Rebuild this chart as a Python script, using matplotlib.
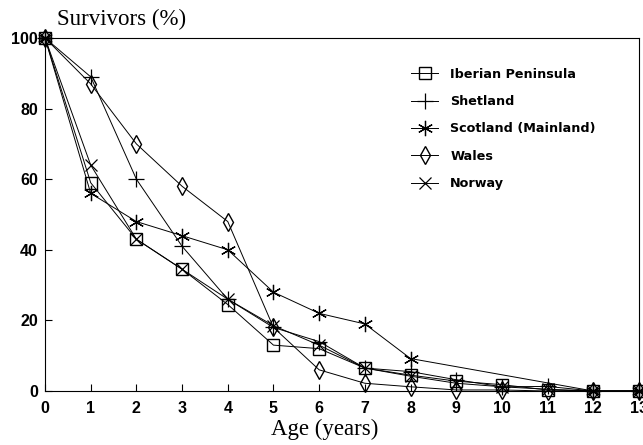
import numpy as np
import matplotlib
matplotlib.use("Agg")
import matplotlib.pyplot as plt

ages = [0, 1, 2, 3, 4, 5, 6, 7, 8, 9, 10, 11, 12, 13]
iberian = [100, 59, 43, 34.5, 24.5, 13, 12, 6.5, 4.5, 2.8, 1.8, 0.3, 0, 0]
shetland = [100, 89, 60, 41, 26, 18, 14, 6.5, 5.5, 3.2, 1.2, 1.3, 0, 0]
scotland = [100, 56, 48, 44, 40, 28, 22, 19, 9.2, np.nan, np.nan, np.nan, 0, 0]
wales = [100, 87, 70, 58, 48, 18, 6, 2.2, 1.2, 0.3, 0.3, 0, 0, 0]
norway = [100, 64, 43, 34.5, 26, 18.5, 13, 6.5, 4.2, 2.2, 1.2, 0.5, 0, 0]

series = [
    ("Iberian Peninsula", iberian, dict(marker="s", markersize=8, mfc="none")),
    ("Shetland", shetland, dict(marker="+", markersize=11, mew=0.9)),
    ("Scotland (Mainland)", scotland, dict(marker=(6, 2, 0), markersize=11, mew=0.9)),
    ("Wales", wales, dict(marker="d", markersize=9, mfc="none")),
    ("Norway", norway, dict(marker="x", markersize=8, mew=0.9)),
]

plt.rcParams["font.family"] = ["Liberation Sans", "DejaVu Sans"]
fig = plt.figure(figsize=(6.43, 4.45), dpi=100)
ax = fig.add_axes([0.070, 0.1213, 0.9238, 0.7933])

for name, vals, style in series:
    x = np.array(ages, dtype=float)
    y = np.array(vals, dtype=float)
    m = ~np.isnan(y)
    ax.plot(x[m], y[m], color="black", lw=0.7, mec="black", label=name,
            clip_on=False, **style)

ax.set_xlim(0, 13)
ax.set_ylim(0, 100)
ax.set_xticks(range(0, 14))
ax.set_yticks([0, 20, 40, 60, 80, 100])
ax.tick_params(direction="in", length=5, width=0.8, labelsize=11.5)
ax.tick_params(axis="x", pad=7)
ax.tick_params(axis="y", pad=5)
for lab in ax.get_xticklabels() + ax.get_yticklabels():
    lab.set_fontweight("bold")
for s in ax.spines.values():
    s.set_linewidth(0.8)

fig.text(0.089, 0.957, "Survivors (%)", family="Liberation Serif", fontsize=16.5,
         ha="left", va="center")
fig.text(0.505, 0.036, "Age (years)", family="Liberation Serif", fontsize=16.5,
         ha="center", va="center")

leg = ax.legend(loc="upper left", bbox_to_anchor=(0.608, 0.93), frameon=False,
                prop=dict(family="DejaVu Sans", weight="bold", size=9.2),
                handlelength=2.1, handletextpad=0.95, labelspacing=1.12,
                borderaxespad=0)

fig.savefig("out.png", dpi=100)
